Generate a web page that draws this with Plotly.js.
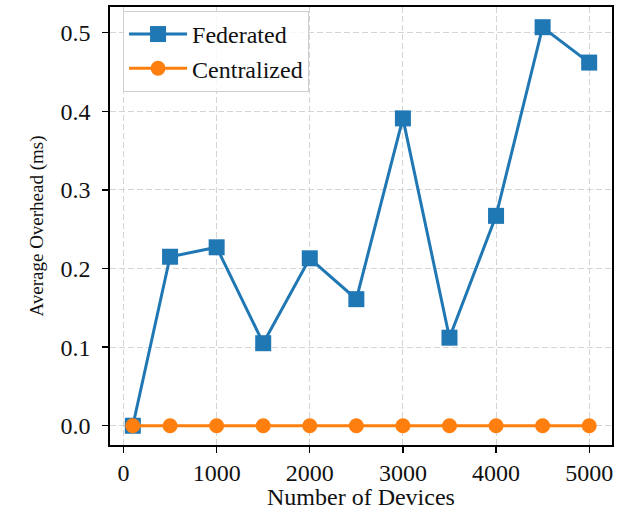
<!DOCTYPE html>
<html>
<head>
<meta charset="utf-8">
<script src="https://cdn.plot.ly/plotly-3.0.1.min.js"></script>
<style>html,body{margin:0;padding:0;background:#fff;}#chart{width:631px;height:516px;}</style>
</head>
<body>
<div id="chart"></div>
<script>
const devices = [100, 500, 1000, 1500, 2000, 2500, 3000, 3500, 4000, 4500, 5000];
const federated = [0.0, 0.215, 0.227, 0.105, 0.213, 0.161, 0.391, 0.112, 0.267, 0.507, 0.462];
const centralized = [0, 0, 0, 0, 0, 0, 0, 0, 0, 0, 0];
const xTicks = [0, 1000, 2000, 3000, 4000, 5000];
const yTicks = [0.0, 0.1, 0.2, 0.3, 0.4, 0.5];
const xTitle = 'Number of Devices';
const yTitle = 'Average Overhead (ms)';

const fam = 'Liberation Serif, Times New Roman, serif';
const tickFont = {family: fam, size: 24, color: '#111'};
const xTitleFont = {family: fam, size: 24, color: '#111'};
const yTitleFont = {family: fam, size: 19, color: '#111'};
const legendFont = {family: fam, size: 24, color: '#111'};

const traces = [
  {x: devices, y: federated, name: 'Federated', mode: 'lines+markers',
   line: {color: '#1f77b4', width: 3}, marker: {symbol: 'square', size: 16, color: '#1f77b4'}},
  {x: devices, y: centralized, name: 'Centralized', mode: 'lines+markers',
   line: {color: '#ff7f0e', width: 3}, marker: {symbol: 'circle', size: 15, color: '#ff7f0e'}}
];

const axisCommon = {
  showline: true, linecolor: '#000', linewidth: 1.6, mirror: true,
  ticks: 'outside', ticklen: 6, tickwidth: 1.3, tickcolor: '#000',
  showgrid: true, gridcolor: '#d4d4d4', griddash: '6px,3px', gridwidth: 1,
  zeroline: false, tickfont: tickFont
};

const layout = {
  width: 631, height: 516,
  margin: {l: 110, r: 19, t: 7, b: 71},
  paper_bgcolor: '#fff', plot_bgcolor: '#fff',
  font: {family: fam, color: '#111'},
  showlegend: true,
  legend: {x: 0.026, y: 0.991, xanchor: 'left', yanchor: 'top',
    bordercolor: '#d0d0d0', borderwidth: 1, bgcolor: 'rgba(255,255,255,0.8)',
    font: legendFont, tracegroupgap: 0, itemwidth: 58},
  xaxis: Object.assign({}, axisCommon, {
    range: [-145, 5245], tickvals: xTicks, ticktext: xTicks.map(String),
    ticklabelstandoff: 0
  }),
  yaxis: Object.assign({}, axisCommon, {
    range: [-0.0245, 0.5327], tickvals: yTicks, ticktext: yTicks.map(v => v.toFixed(1)),
    ticklabelstandoff: 7,
    title: {text: yTitle, font: yTitleFont, standoff: 12}
  }),
  annotations: [{
    text: xTitle, xref: 'paper', yref: 'paper', x: 0.5, y: -0.119,
    xanchor: 'center', yanchor: 'middle', showarrow: false, font: xTitleFont
  }]
};

Plotly.newPlot('chart', traces, layout, {displayModeBar: false, staticPlot: true});
</script>
</body>
</html>
